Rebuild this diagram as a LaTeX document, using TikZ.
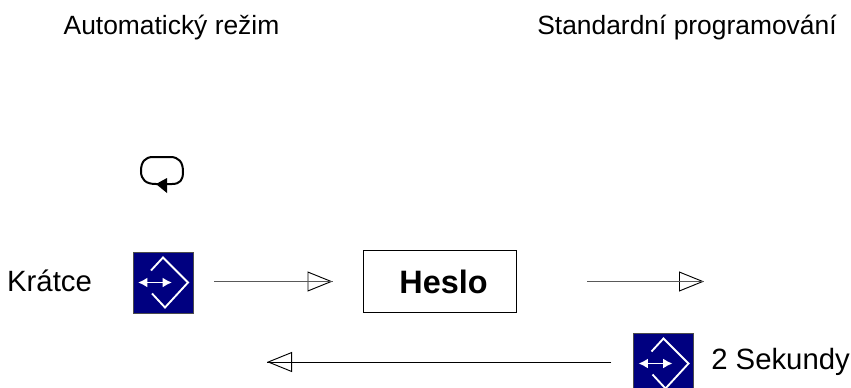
\documentclass[tikz,border=0pt]{standalone}
\usepackage{fontspec}
\setmainfont{Liberation Sans}
\usetikzlibrary{arrows.meta}
\definecolor{keyblue}{rgb}{0,0,0.5}
\tikzset{
  toplabel/.style={inner sep=0pt,font=\fontsize{19.8pt}{24pt}\selectfont},
  sidelabel/.style={inner sep=0pt,font=\fontsize{22pt}{26pt}\selectfont},
  keybox/.style={draw=black!70,fill=keyblue,minimum width=45pt,minimum height=45.75pt,inner sep=0pt,line width=0.6pt},
  keyline/.style={draw=white,line width=1.4pt},
  flow/.style={draw=black!65,line width=1pt,-{Triangle[open,length=18.75pt,width=15pt,line width=0.7pt,color=black]},postaction={draw,arrows=-}}
}
% key symbol: name, centre
\newcommand{\keysym}[2]{
  \node[keybox] (#1) at (#2) {};
  \draw[keyline] ([shift={(-12,-12)}]#1.center) -- ([shift={(0,-25)}]#1.center) -- ([shift={(25,0)}]#1.center) -- ([shift={(2,25)}]#1.center) -- ([shift={(-11,11)}]#1.center);
  \draw[keyline,{Latex[length=7pt,width=7.5pt]}-{Latex[length=7pt,width=7.5pt]}] ([shift={(-25,0)}]#1.center) -- ([shift={(9,0)}]#1.center);
}
\begin{document}
\begin{tikzpicture}[x=0.75pt,y=0.75pt,yscale=-1,xscale=1]
\useasboundingbox (0,0) rectangle (851,387);

% Text Node
\node[toplabel] (auto) at (171.5,28) {Automatický režim};
\node[toplabel] (std) at (687,28) {Standardní programování};
\node[sidelabel] (kratce) at (49.5,281) {Krátce};
\node[sidelabel,anchor=west] (sek) at (711,362) {2 Sekundy};

% Keys
\keysym{keyA}{163,282.5}
\keysym{keyB}{663.5,363.5}

% Password box
\node[draw,line width=0.75pt,minimum width=114.75pt,minimum height=46.5pt,inner sep=0pt,font=\fontsize{24.3pt}{29pt}\selectfont\bfseries] (heslo) at (439.5,281.5) {\kern6pt\raisebox{-0.75pt}{Heslo}};

% free ends
\coordinate (endA) at (704,281.5);
\coordinate (endB) at (267,362);

% Arrows
\draw[flow,shorten <=15.75pt,shorten >=22.5pt] (keyA.east |- heslo) -- (heslo.west);
\draw[flow,shorten <=53pt] (heslo.east) -- (endA);
\draw[flow,draw=black,line width=0.75pt,shorten <=16.5pt] (keyB.west |- endB) -- (endB);

% Loop
\coordinate (loop) at (156,184);
\draw[line width=1.5pt] (loop) -- (172,184) .. controls (180,184) and (183,180) .. (183,172) .. controls (183,162) and (179,157) .. (170,157) -- (153,157) .. controls (145,157) and (141,162) .. (141,171) .. controls (141,180) and (146,184) .. (156,184);
\fill (loop) -- (167,178) -- (167,193) -- cycle;
\end{tikzpicture}
\end{document}
